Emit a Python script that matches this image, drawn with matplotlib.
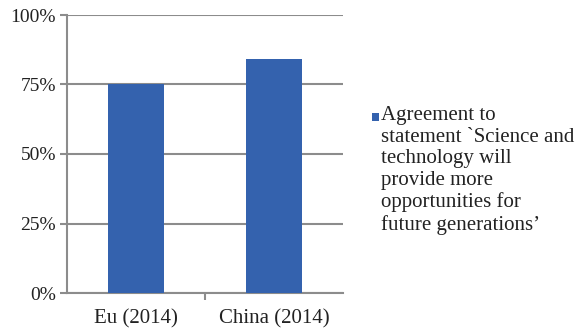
import matplotlib
matplotlib.use("Agg")
import matplotlib.pyplot as plt
from matplotlib.ticker import FixedLocator
from matplotlib.patches import Rectangle
from matplotlib.legend_handler import HandlerPatch

categories = ["Eu (2014)", "China (2014)"]
values = [75, 84]
yticks = [0, 25, 50, 75, 100]
ytick_labels = ["0%", "25%", "50%", "75%", "100%"]
series_label = ("Agreement to\nstatement `Science and\ntechnology will\n"
                "provide more\nopportunities for\nfuture generations\u2019")

plt.rcParams['font.family'] = ['Liberation Serif', 'DejaVu Serif']

fig = plt.figure(figsize=(5.84, 3.31), dpi=100)
ax = fig.add_axes([67/584, 1-293/331, (343-67)/584, (293-15)/331])

grid_c = "#8c8c8c"
bar_c = "#3462ae"
x = list(range(len(categories)))
bars = ax.bar(x, values, width=0.4, color=bar_c, zorder=3, label=series_label)

ax.set_xlim(-0.5, 1.5)
ax.set_ylim(0, 100)
ax.set_yticks(yticks)
ax.set_yticklabels(ytick_labels, fontsize=14, color="#222222")
ax.set_xticks(x)
ax.set_xticklabels(categories, fontsize=15, color="#222222")
ax.xaxis.set_minor_locator(FixedLocator([0.5]))
ax.tick_params(axis='x', which='major', length=0, pad=12)
ax.tick_params(axis='x', which='minor', length=5, width=1.5, color=grid_c)
ax.tick_params(axis='y', length=5, width=1.5, color=grid_c, pad=3)

ax.yaxis.grid(True, color=grid_c, linewidth=1.5, zorder=1)
ax.set_axisbelow(True)
for s in ["top", "right"]:
    ax.spines[s].set_visible(False)
for s in ["left", "bottom"]:
    ax.spines[s].set_color(grid_c)
    ax.spines[s].set_linewidth(1.5)


def small_square(legend, orig_handle, xdescent, ydescent, width, height, fontsize):
    size = 0.36 * fontsize
    return Rectangle((-xdescent + width - size, -ydescent + 0.04 * fontsize), size, size)


leg = fig.legend(handles=[bars.patches[0]], labels=[series_label],
                 loc="upper left", bbox_to_anchor=(371/584, 1-106/331),
                 frameon=False, fontsize=15, handlelength=0.4, handleheight=0.78,
                 handletextpad=0.08, borderpad=0, borderaxespad=0, labelspacing=0,
                 handler_map={Rectangle: HandlerPatch(patch_func=small_square)})
for vp in leg._legend_handle_box.get_children():
    for hp in vp.get_children():
        hp.align = "top"
for t in leg.get_texts():
    t.set_linespacing(1.18)
    t.set_color("#222222")

fig.savefig("out.png", dpi=100)
